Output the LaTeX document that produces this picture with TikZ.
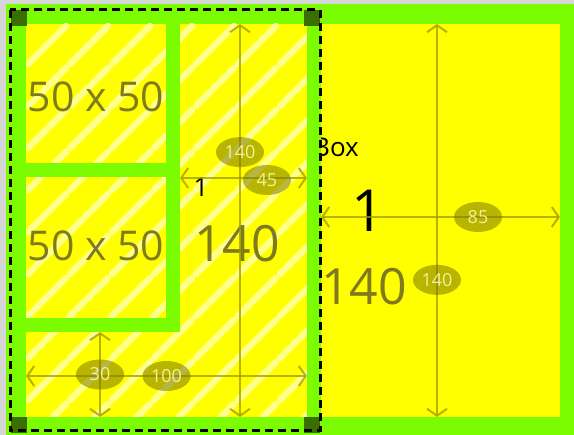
\documentclass[tikz,border=0pt]{standalone}
\usepackage{fontspec}
\setmainfont{Open Sans}
\usepackage{tikz}
\usetikzlibrary{arrows.meta,shapes.geometric}
\definecolor{FrameGray}{HTML}{D6D6D6}
\definecolor{BoxGreen}{HTML}{7CFC00}
\definecolor{HandleGreen}{HTML}{3B6E00}
\definecolor{BoxYellow}{HTML}{FFFF00}
\definecolor{StripeYellow}{HTML}{FFFF8C}
\definecolor{DimOlive}{HTML}{9E9A00}
\definecolor{LabelOlive}{HTML}{787200}
\definecolor{LabelText}{HTML}{F4F09A}
\definecolor{SizeText}{HTML}{7F7A1E}
\tikzset{
  hatchline/.style={draw=StripeYellow,line width=6.5pt,line cap=round},
  dimline/.style={{Straight Barb[length=7pt,width=20pt]}-{Straight Barb[length=7pt,width=20pt]},
    draw=DimOlive,draw opacity=0.75,line width=2pt},
  dimlabel/.style={ellipse,fill=LabelOlive,fill opacity=0.52,text opacity=1,text=LabelText,
    minimum width=48pt,minimum height=30pt,inner sep=0pt,font=\fontsize{18}{20}\selectfont},
  sizetext/.style={text=SizeText,inner sep=0pt,font=\fontsize{41}{46}\selectfont},
  bigsize/.style={sizetext,font=\fontsize{50}{56}\selectfont},
  plaintext/.style={text=black,inner sep=0pt,font=\fontsize{26}{30}\selectfont},
  handle/.style={fill=HandleGreen,minimum size=16pt,inner sep=0pt},
  selection/.style={draw=black,line width=3pt,dash pattern=on 8pt off 5pt}
}
\begin{document}
\begin{tikzpicture}[x=1pt,y=-1pt]
  \useasboundingbox (0,0) rectangle (574,435);
  \clip (0,0) rectangle (574,435);
  \fill[FrameGray] (0,0) rectangle (574,435);
  % outer frame and the two boxes
  \fill[BoxGreen] (6,4) rectangle (594,455);
  \fill[BoxYellow] (26,24) rectangle (307,417);
  \fill[BoxYellow] (321,24) rectangle (560,417);
  \begin{scope}
    \clip (26,24) rectangle (307,417);
    \foreach \i in {0,...,6}
      \foreach \j in {0,...,9}
        \draw[hatchline] ({28+42*\i},{64+42*\j}) -- ({66+42*\i},{26+42*\j});
  \end{scope}
  \node[plaintext,anchor=west] (boxname) at (313,147) {Box};
  \fill[BoxGreen] (307,24) rectangle (321,417);
  % the two 50 x 50 cells
  \fill[BoxGreen] (166,24) rectangle (180,332);
  \fill[BoxGreen] (26,163) rectangle (180,177);
  \fill[BoxGreen] (26,318) rectangle (180,332);
  \node[sizetext] (cellA) at (96,97) {50 x 50};
  \node[sizetext] (cellB) at (96,246) {50 x 50};
  \node[bigsize] (leftsize) at (237,244) {140};
  \node[bigsize] (rightsize) at (364,287) {140};
  \node[plaintext] (leftone) at (201,187) {1};
  \node[plaintext,font=\fontsize{58}{62}\selectfont] (rightone) at (368,211) {1};
  % dimension arrows
  \coordinate (lvTop) at (240,24);   \coordinate (lvBot) at (240,417);
  \coordinate (lhL) at (180,178);    \coordinate (lhR) at (307,178);
  \coordinate (bhL) at (26,376);     \coordinate (bhR) at (307,376);
  \coordinate (bvTop) at (100,332);  \coordinate (bvBot) at (100,417);
  \coordinate (rvTop) at (437,24);   \coordinate (rvBot) at (437,417);
  \coordinate (rhL) at (321,217);    \coordinate (rhR) at (560,217);
  \draw[dimline] (lvTop) -- node[dimlabel,pos=0.326] (lvLabel) {140} (lvBot);
  \draw[dimline] (lhL) -- node[dimlabel,pos=0.685,yshift=-2pt] (lhLabel) {45} (lhR);
  \draw[dimline] (bhL) -- node[dimlabel] (bhLabel) {100} (bhR);
  \draw[dimline] (bvTop) -- node[dimlabel] (bvLabel) {30} (bvBot);
  \draw[dimline] (rvTop) -- node[dimlabel,pos=0.651] (rvLabel) {140} (rvBot);
  \draw[dimline] (rhL) -- node[dimlabel,pos=0.657] (rhLabel) {85} (rhR);
  % selection handles
  \node[handle] (hNW) at (19,18) {};
  \node[handle] (hNE) at (312,18) {};
  \node[handle] (hSW) at (19,425) {};
  \node[handle] (hSE) at (312,425) {};
  \draw[selection] (10,10) rectangle (320,431);
\end{tikzpicture}
\end{document}
